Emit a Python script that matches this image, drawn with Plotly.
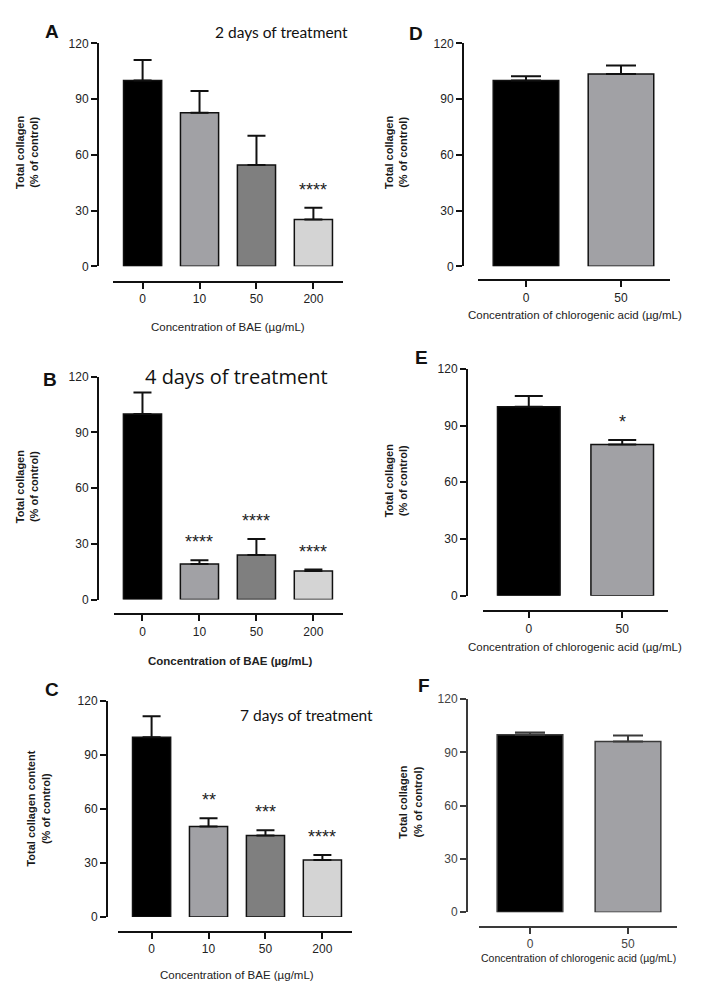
import plotly.graph_objects as go

W, H = 712, 1000

# ---------------- data ----------------
bae_conc = ["0", "10", "50", "200"]
cga_conc = ["0", "50"]

a_mean = [100, 82.7, 54.6, 25.2]
a_sd = [11.1, 11.7, 15.7, 6.3]
a_sig = ["", "", "", "****"]

b_mean = [100, 19.1, 24.0, 15.4]
b_sd = [11.5, 2.1, 8.6, 0.8]
b_sig = ["", "****", "****", "****"]

c_mean = [100, 50.3, 45.4, 31.7]
c_sd = [11.6, 4.6, 2.8, 2.8]
c_sig = ["", "**", "***", "****"]

d_mean = [100, 103.5]
d_sd = [2.3, 4.7]
d_sig = ["", ""]

e_mean = [100, 80.0]
e_sd = [5.6, 2.4]
e_sig = ["", "*"]

f_mean = [100, 96.1]
f_sd = [1.2, 3.5]
f_sig = ["", ""]

y_ticks = [0, 30, 60, 90, 120]

bae_colors = ["#000000", "#a1a1a5", "#7f7f7f", "#d4d4d4"]
cga_colors = ["#000000", "#a1a1a5"]

# ---------------- layout helpers ----------------
def px(x):
    return x / W


def py(y):
    return 1 - y / H


FONT = "Liberation Sans, Arial, sans-serif"
TITLE_FONT = "Lato, Open Sans, sans-serif"

panels = [
    dict(cats=bae_conc, mean=a_mean, sd=a_sd, sig=a_sig, colors=bae_colors,
         yx=98, ytop=37, ybot=263, xly=279, x0=113, x1=343, rng=[-0.52, 3.52], bw=0.67, cap=9,
         lc="#111111", tc="#222222"),
    dict(cats=bae_conc, mean=b_mean, sd=b_sd, sig=b_sig, colors=bae_colors,
         yx=98, ytop=375, ybot=601, xly=616, x0=114, x1=343, rng=[-0.5, 3.52], bw=0.67, cap=9,
         lc="#111111", tc="#222222"),
    dict(cats=bae_conc, mean=c_mean, sd=c_sd, sig=c_sig, colors=bae_colors,
         yx=107, ytop=704, ybot=923, xly=938, x0=118, x1=352, rng=[-0.59, 3.52], bw=0.67, cap=9,
         lc="#111111", tc="#222222"),
    dict(cats=cga_conc, mean=d_mean, sd=d_sd, sig=d_sig, colors=cga_colors,
         yx=463, ytop=37, ybot=263, xly=277, x0=478, x1=670, rng=[-0.505, 1.516], bw=0.69, cap=15,
         lc="#111111", tc="#222222"),
    dict(cats=cga_conc, mean=e_mean, sd=e_sd, sig=e_sig, colors=cga_colors,
         yx=467, ytop=367, ybot=597, xly=613, x0=483, x1=668, rng=[-0.49, 1.49], bw=0.67, cap=14,
         lc="#111111", tc="#222222"),
    dict(cats=cga_conc, mean=f_mean, sd=f_sd, sig=f_sig, colors=cga_colors,
         yx=467, ytop=702, ybot=918, xly=933, x0=479, x1=677, rng=[-0.52, 1.5], bw=0.67, cap=15,
         lc="#3a3a3a", tc="#444444"),
]

fig = go.Figure()
layout = dict(
    width=W, height=H, margin=dict(l=0, r=0, t=0, b=0),
    paper_bgcolor="white", plot_bgcolor="rgba(0,0,0,0)",
    showlegend=False, font=dict(family=FONT, size=11, color="#222222"),
)
annotations = []

for i, p in enumerate(panels, start=1):
    xa = "x" if i == 1 else f"x{i}"
    ya = "y" if i == 1 else f"y{i}"
    n = len(p["cats"])
    fig.add_trace(go.Bar(
        x=p["cats"], y=p["mean"], xaxis=xa, yaxis=ya, width=p["bw"],
        marker=dict(color=p["colors"], line=dict(color=p["lc"], width=1.5)),
        error_y=dict(type="data", array=p["sd"], arrayminus=[0] * n, symmetric=False,
                     color=p["lc"], thickness=2, width=p["cap"]),
        hoverinfo="skip",
    ))
    xkey = "xaxis" if i == 1 else f"xaxis{i}"
    ykey = "yaxis" if i == 1 else f"yaxis{i}"
    layout[xkey] = dict(
        domain=[px(p["x0"]), px(p["x1"])], type="category", range=p["rng"],
        anchor="free", position=py(p["xly"]),
        showline=True, linecolor=p["lc"], linewidth=2,
        ticks="outside", ticklen=6, tickwidth=2, tickcolor=p["lc"],
        showgrid=False, zeroline=False, fixedrange=True,
        tickfont=dict(family=FONT, size=12, color=p["tc"]),
    )
    layout[ykey] = dict(
        domain=[py(p["ybot"]), py(p["ytop"])], range=[0, 120], tickvals=y_ticks,
        anchor="free", position=px(p["yx"]),
        showline=True, linecolor=p["lc"], linewidth=2,
        ticks="outside", ticklen=6, tickwidth=2, tickcolor=p["lc"],
        showgrid=False, zeroline=False, fixedrange=True,
        tickfont=dict(family=FONT, size=12, color=p["tc"]),
    )
    # significance marks (category axes use the serial index for annotations)
    for k, (m, s, g) in enumerate(zip(p["mean"], p["sd"], p["sig"])):
        if g:
            annotations.append(dict(
                x=k, y=m + s, xref=xa, yref=ya, text=g, showarrow=False,
                yanchor="bottom", yshift=6,
                font=dict(family=FONT, size=18, color="#222222"),
            ))

# panel letters
letters = [("A", 52, 25), ("B", 50, 378), ("C", 52, 692),
           ("D", 416, 27), ("E", 422, 355), ("F", 424, 688)]
for t, x, y in letters:
    annotations.append(dict(x=px(x), y=py(y), xref="paper", yref="paper", text=f"<b>{t}</b>",
                            showarrow=False, xanchor="center", yanchor="middle",
                            font=dict(family=FONT, size=19, color="#111111")))

# treatment titles
titles = [("2 days of treatment", 213, 25, 15.5, TITLE_FONT),
          ("4 days of treatment", 143, 375, 20, "Open Sans, sans-serif"),
          ("7 days of treatment", 238, 718, 15.5, TITLE_FONT)]
for t, x, y, s, f in titles:
    annotations.append(dict(x=px(x), y=py(y), xref="paper", yref="paper", text=t,
                            showarrow=False, xanchor="left", yanchor="middle",
                            font=dict(family=f, size=s, color="#111111")))

# y-axis titles
ytitles = [("<b>Total collagen<br>(% of control)</b>", 27, 148),
           ("<b>Total collagen<br>(% of control)</b>", 27, 487),
           ("<b>Total collagen content<br>(% of control)</b>", 38, 813),
           ("<b>Total collagen<br>(% of control)</b>", 396, 148),
           ("<b>Total collagen<br>(% of control)</b>", 396, 481),
           ("<b>Total collagen<br>(% of control)</b>", 410, 807)]
for t, x, y in ytitles:
    annotations.append(dict(x=px(x), y=py(y), xref="paper", yref="paper", text=t,
                            showarrow=False, textangle=-90, xanchor="center", yanchor="middle",
                            font=dict(family=FONT, size=11, color="#1a1a1a")))

# x-axis titles
xtitles = [("Concentration of BAE (µg/mL)", 228, 325, 11.5, False),
           ("Concentration of BAE (µg/mL)", 230, 663, 11.5, True),
           ("Concentration of BAE (µg/mL)", 237, 982, 11.5, False),
           ("Concentration of chlorogenic acid (µg/mL)", 575, 312, 11.5, False),
           ("Concentration of chlorogenic acid (µg/mL)", 575, 649, 11.5, False),
           ("Concentration of chlorogenic acid (µg/mL)", 578, 965, 10.5, False)]
for t, x, y, s, b in xtitles:
    annotations.append(dict(x=px(x), y=py(y), xref="paper", yref="paper",
                            text=f"<b>{t}</b>" if b else t,
                            showarrow=False, xanchor="center", yanchor="middle",
                            font=dict(family=FONT, size=s, color="#222222")))

layout["annotations"] = annotations
fig.update_layout(**layout)
fig.write_html("out.html")
